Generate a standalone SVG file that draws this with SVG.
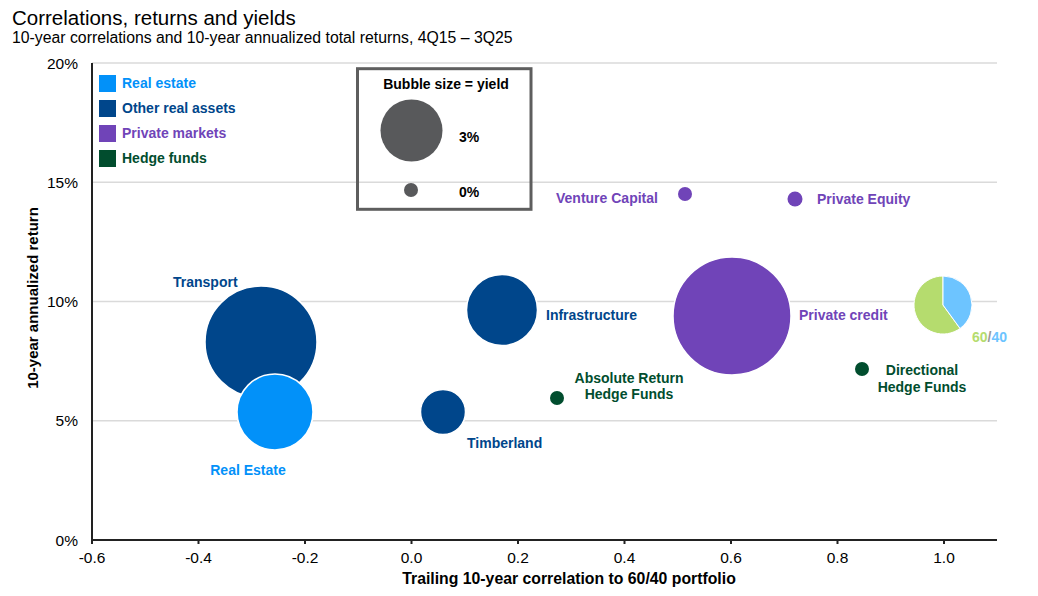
<svg xmlns="http://www.w3.org/2000/svg" width="1038" height="596" viewBox="0 0 1038 596">
<style>
text{font-family:"Liberation Sans",Arial,sans-serif}
.title{font-size:20.5px;fill:#000}
.sub{font-size:15.8px;fill:#000}
.tick{font-size:15.5px;fill:#000}
.axt{font-size:15px;font-weight:bold;fill:#000}
.axx{font-size:15.8px;font-weight:bold;fill:#000}
.lbl{font-size:14px;font-weight:bold}
.grid{stroke:#DADADA;stroke-width:1.5}
.axis{stroke:#222;stroke-width:2;fill:none}
.b{stroke:#fff;stroke-width:1.5}
.re{fill:#0291F9}
.ora{fill:#00468B}
.pm{fill:#7044B8}
.hf{fill:#014D2E}
.gray{fill:#58595B}
</style>
<rect width="1038" height="596" fill="#fff"/>
<text class="title" x="12" y="25">Correlations, returns and yields</text>
<text class="sub" x="12" y="43">10-year correlations and 10-year annualized total returns, 4Q15 – 3Q25</text>

<g id="grid">
<line class="grid" x1="92" y1="63" x2="997" y2="63"/>
<line class="grid" x1="92" y1="182.3" x2="997" y2="182.3"/>
<line class="grid" x1="92" y1="301.5" x2="997" y2="301.5"/>
<line class="grid" x1="92" y1="420.8" x2="997" y2="420.8"/>
</g>

<g id="axes">
<path class="axis" d="M92,63 V540 H997"/>
<path class="axis" d="M92,540v4 M198.5,540v4 M305,540v4 M411.5,540v4 M518,540v4 M624.5,540v4 M731,540v4 M837.5,540v4 M944,540v4"/>
<g class="tick" text-anchor="end">
<text x="78" y="68.5">20%</text>
<text x="78" y="187.8">15%</text>
<text x="78" y="307">10%</text>
<text x="78" y="426.3">5%</text>
<text x="78" y="545.5">0%</text>
</g>
<g class="tick" text-anchor="middle">
<text x="92" y="563">-0.6</text>
<text x="198.5" y="563">-0.4</text>
<text x="305" y="563">-0.2</text>
<text x="411.5" y="563">0.0</text>
<text x="518" y="563">0.2</text>
<text x="624.5" y="563">0.4</text>
<text x="731" y="563">0.6</text>
<text x="837.5" y="563">0.8</text>
<text x="944" y="563">1.0</text>
</g>
<text class="axx" x="569" y="584" text-anchor="middle">Trailing 10-year correlation to 60/40 portfolio</text>
<text class="axt" transform="translate(38,298) rotate(-90)" text-anchor="middle">10-year annualized return</text>
</g>

<g id="legend">
<g id="legend-real-estate"><rect class="re" x="99" y="75" width="17" height="17"/><text class="lbl" x="122" y="88" fill="#0291F9">Real estate</text></g>
<g id="legend-other-real-assets"><rect class="ora" x="99" y="100" width="17" height="17"/><text class="lbl" x="122" y="113" fill="#00468B">Other real assets</text></g>
<g id="legend-private-markets"><rect class="pm" x="99" y="125" width="17" height="17"/><text class="lbl" x="122" y="138" fill="#7044B8">Private markets</text></g>
<g id="legend-hedge-funds"><rect class="hf" x="99" y="150" width="17" height="17"/><text class="lbl" x="122" y="163" fill="#014D2E">Hedge funds</text></g>
</g>

<g id="size-key">
<rect x="357.5" y="68.7" width="173.5" height="140.6" fill="none" stroke="#5E5E5E" stroke-width="3"/>
<text class="lbl" x="446" y="89" text-anchor="middle" fill="#000">Bubble size = yield</text>
<circle class="gray" cx="411.5" cy="130.5" r="31"/>
<text class="lbl" x="459" y="141.5" fill="#000">3%</text>
<circle class="gray" cx="411" cy="190" r="7"/>
<text class="lbl" x="459" y="197" fill="#000">0%</text>
</g>

<g id="connectors"></g>

<g id="transport">
<circle class="b ora" cx="261" cy="342" r="56"/>
<text class="lbl" x="173" y="287" fill="#00468B">Transport</text>
</g>
<g id="real-estate">
<circle class="b re" cx="275" cy="412" r="38"/>
<text class="lbl" x="248" y="475" text-anchor="middle" fill="#0291F9">Real Estate</text>
</g>
<g id="timberland">
<circle class="b ora" cx="443" cy="412" r="22.5"/>
<text class="lbl" x="467" y="448" fill="#00468B">Timberland</text>
</g>
<g id="infrastructure">
<circle class="b ora" cx="502" cy="310" r="35.5"/>
<text class="lbl" x="546" y="320" fill="#00468B">Infrastructure</text>
</g>
<g id="absolute-return">
<circle class="hf" cx="557" cy="398" r="7"/>
<text class="lbl" text-anchor="middle" fill="#014D2E"><tspan x="629" y="383">Absolute Return</tspan><tspan x="629" y="399">Hedge Funds</tspan></text>
</g>
<g id="venture-capital">
<circle class="pm" cx="685" cy="194" r="7"/>
<text class="lbl" x="556" y="203" fill="#7044B8">Venture Capital</text>
</g>
<g id="private-equity">
<circle class="pm" cx="795" cy="199" r="7.5"/>
<text class="lbl" x="817" y="204" fill="#7044B8">Private Equity</text>
</g>
<g id="private-credit">
<circle class="b pm" cx="732" cy="316" r="59"/>
<text class="lbl" x="799" y="320" fill="#7044B8">Private credit</text>
</g>
<g id="directional">
<circle class="hf" cx="862" cy="369" r="7"/>
<text class="lbl" text-anchor="middle" fill="#014D2E"><tspan x="922" y="375">Directional</tspan><tspan x="922" y="392">Hedge Funds</tspan></text>
</g>
<g id="sixty-forty">
<path d="M943,305 L960.05,328.46 A29,29 0 1 1 943,276 Z" fill="#B5DC6E" stroke="#fff" stroke-width="1"/>
<path d="M943,305 L943,276 A29,29 0 0 1 960.05,328.46 Z" fill="#6DC4FF" stroke="#fff" stroke-width="1"/>
<text class="lbl" x="972" y="342"><tspan fill="#B5DC6E">60</tspan><tspan fill="#999">/</tspan><tspan fill="#6DC4FF">40</tspan></text>
</g>
</svg>
